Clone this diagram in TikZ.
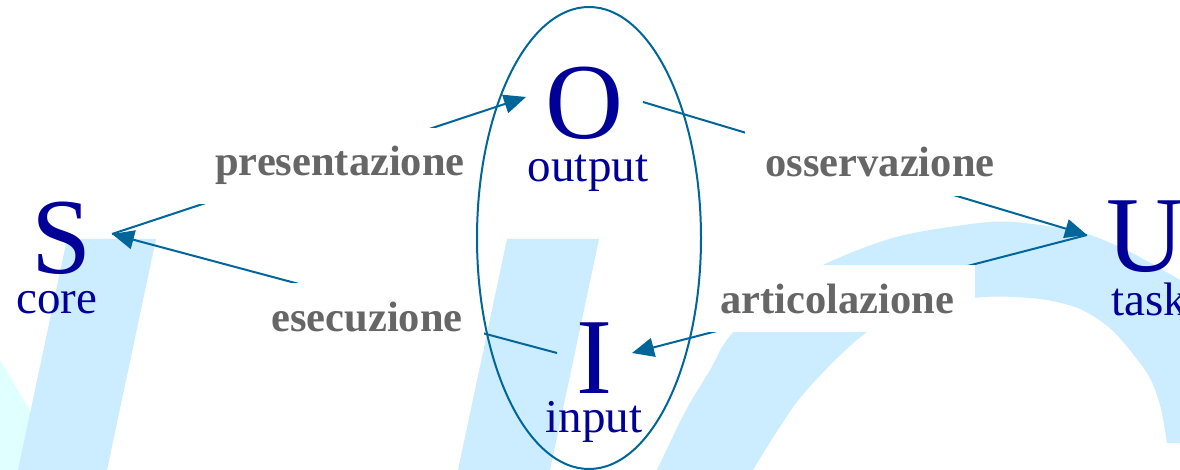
\documentclass[tikz,border=0pt]{standalone}
\usepackage{fontspec}
\setmainfont{Liberation Serif}
\usetikzlibrary{arrows.meta}
\definecolor{bgblue}{RGB}{204,236,255}
\definecolor{bgcyan}{RGB}{224,255,255}
\definecolor{linkc}{RGB}{0,102,153}
\definecolor{letterc}{RGB}{0,0,153}
\definecolor{labelc}{RGB}{102,102,102}
\begin{document}
\begin{tikzpicture}[x=1pt,y=-1pt,
  bigletter/.style={inner sep=0pt, text=letterc, font=\fontsize{108}{108}\selectfont, anchor=base},
  smallword/.style={inner sep=0pt, text=letterc, font=\fontsize{47}{47}\selectfont, anchor=base},
  flowlabel/.style={fill=white, text=labelc, font=\bfseries\fontsize{42.5}{45}\selectfont, inner xsep=21pt, inner ysep=19pt, anchor=base},
  link/.style={draw=linkc, line width=2pt},
  linkarrow/.style={link, -{Triangle[length=22pt,width=19pt]}},
]
\useasboundingbox (0,0) rectangle (1180,470);
\clip (0,0) rectangle (1180,470);
\fill[white] (0,0) rectangle (1180,470);
% background watermark shapes
\fill[bgcyan] (0,360) -- (65,470) -- (0,470) -- cycle;
\fill[bgblue] (67,239) -- (156,239) -- (107,470) -- (18,470) -- cycle;
\fill[bgblue] (507,239) -- (599,239) -- (550,470) -- (458,470) -- cycle;
\fill[bgblue] plot[smooth] coordinates {(657,470) (685,412) (710,370) (730,336) (780,292) (827,263) (900,236) (990,222) (1040,225) (1087,234) (1130,252) (1180,280) (1200,295)}
  -- (1200,443) -- (1167,443)
  -- plot[smooth] coordinates {(1167,443) (1160,405) (1147,373) (1113,331) (1080,309) (1040,299) (985,297) (920,307) (863,335) (800,398) (753,470)} -- cycle;
% connector end points
\coordinate (Sp) at (112,234);
\coordinate (Oin) at (526,97);
\coordinate (Oout) at (643,102);
\coordinate (Up) at (1087,235);
\coordinate (Iin) at (632,353);
\coordinate (Iout) at (557,353);
% connectors
\draw[linkarrow] (Sp) -- (Oin);
\draw[linkarrow] (Iout) -- (Sp);
\draw[linkarrow] (Oout) -- (Up);
\draw[linkarrow] (Up) -- (Iin);
% labels
\node[flowlabel] (pres) at (340,176) {presentazione};
\node[flowlabel] (oss) at (880,177) {osservazione};
\node[flowlabel] (ese) at (367,331) {esecuzione};
\node[flowlabel] (art) at (837,313) {articolazione};
% ellipse around O and I
\draw[linkc, line width=2pt] (589,238) ellipse [x radius=112, y radius=231];
% letters
\node[bigletter] (S) at (62,273) {S};
\node[smallword] (core) at (57,313) {core};
\node[bigletter] (O) at (584,138.5) {O};
\node[smallword] (output) at (588,182) {output};
\node[bigletter] (I) at (594,393) {I};
\node[smallword] (input) at (594,432) {input};
\node[bigletter, anchor=base west] (U) at (1106,272) {U};
\node[smallword, anchor=base west] (task) at (1111,315) {task};
\end{tikzpicture}
\end{document}
